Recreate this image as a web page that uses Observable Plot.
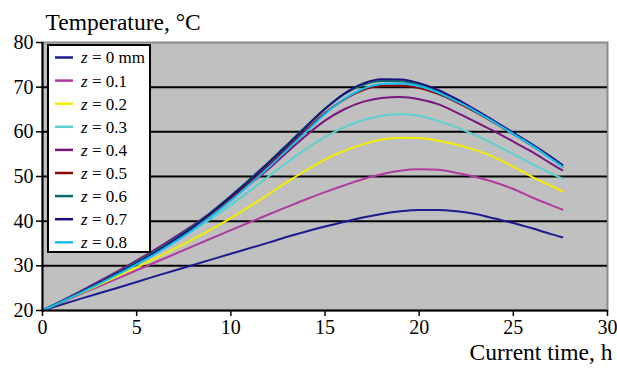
<!DOCTYPE html>
<html><head><meta charset="utf-8">
<script src="https://cdn.jsdelivr.net/npm/d3@7"></script>
<script src="https://cdn.jsdelivr.net/npm/@observablehq/plot@0.6"></script>
<style>body{margin:0;background:#fff} svg{display:block}</style>
</head><body><div id="chart"></div>
<script>
// time, h
const times = [0, 2, 4, 6, 8, 10, 12, 13, 14, 15, 16, 17, 18, 19, 20, 21, 22, 23, 24, 25, 26, 27, 27.6];
// temperature, °C, for each depth z
const z00 = [20, 22.6, 25.1, 27.7, 30.2, 32.7, 35.2, 36.5, 37.7, 38.8, 39.8, 40.8, 41.6, 42.2, 42.5, 42.5, 42.2, 41.6, 40.6, 39.6, 38.4, 37.1, 36.4];
const z01 = [20, 23.6, 27.2, 30.8, 34.4, 38.0, 41.5, 43.2, 44.9, 46.5, 48.0, 49.4, 50.5, 51.3, 51.6, 51.5, 50.8, 49.9, 48.7, 47.2, 45.3, 43.6, 42.6];
const z02 = [20, 23.8, 27.7, 31.7, 36.0, 40.7, 46.0, 48.8, 51.4, 53.8, 55.7, 57.2, 58.3, 58.7, 58.6, 58.0, 57.1, 55.9, 54.3, 52.2, 49.9, 47.9, 46.7];
const z03 = [20, 24.2, 28.5, 33.0, 38.0, 43.6, 50.0, 53.2, 56.2, 58.8, 61.0, 62.6, 63.6, 64.0, 63.6, 62.4, 61.0, 59.2, 57.2, 55.0, 52.8, 50.7, 49.5];
const z04 = [20, 24.3, 28.8, 33.7, 39.1, 45.1, 51.7, 55.5, 59.2, 62.5, 65.0, 66.7, 67.6, 67.8, 67.3, 66.2, 64.3, 62.2, 60.1, 57.8, 55.5, 52.9, 51.4];
const z05 = [20, 24.0, 28.3, 33.0, 38.5, 45.0, 52.4, 56.4, 60.4, 64.2, 67.2, 69.3, 70.3, 70.4, 69.8, 68.5, 66.6, 64.4, 62.0, 59.5, 56.9, 54.1, 52.3];
const z06 = [20, 24.1, 28.5, 33.3, 38.9, 45.7, 53.2, 57.2, 61.3, 65.2, 68.4, 70.5, 71.4, 71.3, 70.5, 69.0, 67.0, 64.7, 62.2, 59.6, 57.0, 54.2, 52.4];
const z07 = [20, 24.0, 28.3, 33.0, 38.7, 45.5, 53.0, 57.0, 61.1, 65.1, 68.5, 70.8, 71.8, 71.7, 70.9, 69.4, 67.3, 64.9, 62.4, 59.8, 57.2, 54.4, 52.6];
const z08 = [20, 23.9, 28.1, 32.7, 38.1, 44.6, 52.0, 56.0, 60.0, 64.0, 67.3, 69.6, 70.7, 70.8, 70.2, 68.8, 66.8, 64.6, 62.1, 59.5, 56.9, 54.0, 52.2];

const seriesLabels = ["0 mm", "0.1", "0.2", "0.3", "0.4", "0.5", "0.6", "0.7", "0.8"];
const seriesColors = ["#1c1c8e", "#b03aa0", "#f2ee00", "#5ccfcf", "#7a167f", "#8a0a0a", "#0a6e68", "#151480", "#12bdf0"];
const xTicks = [0, 5, 10, 15, 20, 25, 30];
const yTicks = [20, 30, 40, 50, 60, 70, 80];

const seriesValues = [z00, z01, z02, z03, z04, z05, z06, z07, z08];
const rows = seriesValues.flatMap((vals, i) => vals.map((v, j) => ({t: times[j], T: v, s: seriesLabels[i]})));

const FONT = "'Liberation Serif', 'Times New Roman', serif";

const svg = Plot.plot({
  width: 617, height: 368,
  marginLeft: 42, marginRight: 10, marginTop: 42, marginBottom: 58,
  style: {fontFamily: FONT, fontSize: "20px", background: "white", color: "black", overflow: "visible"},
  x: {domain: [0, 30], label: null},
  y: {domain: [20, 80], label: null},
  color: {domain: seriesLabels, range: seriesColors},
  marks: [
    Plot.frame({fill: "#c0c0c0", stroke: "#8c8c8c", strokeWidth: 2}),
    Plot.gridY(yTicks.filter(d => d > 20 && d < 80), {stroke: "black", strokeOpacity: 1, strokeWidth: 2}),
    Plot.line(rows, {x: "t", y: "T", z: "s", stroke: "s", strokeWidth: 2, curve: "monotone-x"}),
    Plot.ruleY([20], {stroke: "black", strokeWidth: 2}),
    Plot.ruleX([0], {stroke: "black", strokeWidth: 2}),
    Plot.axisX({ticks: xTicks, tickSize: 6, tickPadding: 3, label: null, stroke: "black", strokeWidth: 1.5}),
    Plot.axisY({ticks: yTicks, tickSize: 6, tickPadding: 3, label: null, stroke: "black", strokeWidth: 1.5}),
    Plot.text(["Temperature, °C"], {frameAnchor: "top-left", textAnchor: "start", lineAnchor: "bottom", dx: 3, dy: -13, fontSize: 23.5, fill: "black"}),
    Plot.text(["Current time, h"], {frameAnchor: "bottom-right", textAnchor: "end", lineAnchor: "bottom", dx: 5, dy: 49, fontSize: 23.5, fill: "black"})
  ]
});

// legend
const sel = d3.select(svg);
const lg = sel.append("g").attr("font-family", FONT).attr("font-size", 17).attr("text-anchor", "start");
lg.append("rect").attr("x", 48).attr("y", 45).attr("width", 102).attr("height", 207)
  .attr("fill", "white").attr("stroke", "black").attr("stroke-width", 2);
seriesLabels.forEach((lab, i) => {
  const y = 57.5 + i * 23.1;
  lg.append("line").attr("x1", 55).attr("x2", 73).attr("y1", y).attr("y2", y)
    .attr("stroke", seriesColors[i]).attr("stroke-width", 2.5);
  const t = lg.append("text").attr("x", 81).attr("y", y).attr("dy", "0.35em").attr("fill", "black").attr("text-anchor", "start");
  t.append("tspan").attr("font-style", "italic").text("z");
  t.append("tspan").text(" = " + lab);
});

document.getElementById("chart").appendChild(svg);
</script>
</body></html>
